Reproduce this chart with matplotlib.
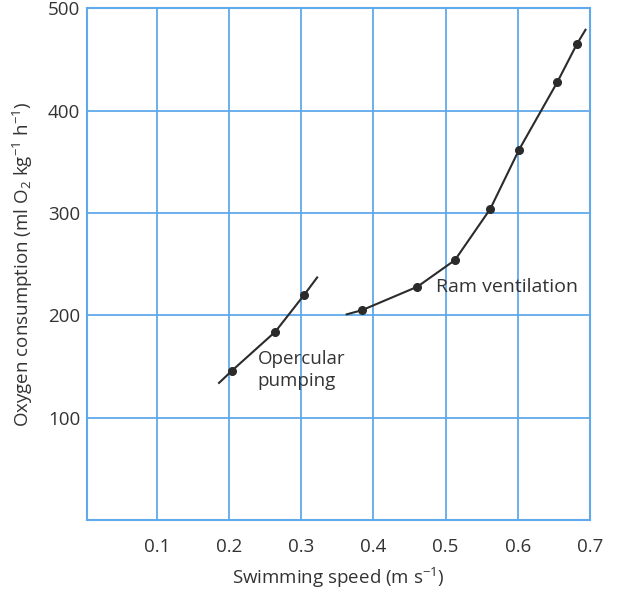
import matplotlib
matplotlib.use('Agg')
import matplotlib.pyplot as plt
import numpy as np

plt.rcParams['font.family'] = 'Open Sans'
plt.rcParams['mathtext.fontset'] = 'custom'
plt.rcParams['mathtext.rm'] = 'Open Sans'
plt.rcParams['mathtext.it'] = 'Open Sans'
plt.rcParams['mathtext.default'] = 'regular'

# opercular pumping: measured points and ends of the drawn line
oper_x = [0.204, 0.264, 0.304]
oper_y = [146, 184, 220]
oper_line_x = [0.186, 0.204, 0.264, 0.304, 0.322]
oper_line_y = [134, 146, 184, 220, 237]

# ram ventilation
ram_x = [0.384, 0.461, 0.513, 0.562, 0.602, 0.655, 0.682]
ram_y = [205, 228, 254, 304, 362, 428, 465]
ram_line_x = [0.363, 0.384, 0.461, 0.513, 0.562, 0.602, 0.655, 0.682, 0.694]
ram_line_y = [201, 205, 228, 254, 304, 362, 428, 465, 479]

xticks = [0.1, 0.2, 0.3, 0.4, 0.5, 0.6, 0.7]
yticks = [100, 200, 300, 400, 500]

grid_c = '#5fa9ec'
txt_c = '#333333'
line_c = '#2b2b2b'

fig = plt.figure(figsize=(6.17, 5.91), dpi=100)
ax = fig.add_axes([0.141, 0.120, 0.815, 0.866])

ax.plot(oper_line_x, oper_line_y, color=line_c, lw=1.5, zorder=3)
ax.plot(oper_x, oper_y, 'o', color=line_c, ms=5.5, zorder=4)
ax.plot(ram_line_x, ram_line_y, color=line_c, lw=1.5, zorder=3)
ax.plot(ram_x, ram_y, 'o', color=line_c, ms=5.5, zorder=4)

ax.text(0.2396, 146.5, 'Opercular\npumping', fontsize=13.5, color=txt_c,
        ha='left', va='center', linespacing=1.3)
ax.text(0.487, 228, 'Ram ventilation', fontsize=14, color=txt_c,
        ha='left', va='center')

ax.set_xlim(0.003, 0.7)
ax.set_ylim(0, 500)
ax.set_xticks(xticks)
ax.set_xticklabels([str(v) for v in xticks])
ax.set_yticks(yticks)
ax.set_yticklabels([str(v) for v in yticks])
ax.grid(True, color=grid_c, lw=1.3)
for s in ax.spines.values():
    s.set_color(grid_c)
    s.set_linewidth(1.5)
ax.tick_params(axis='x', length=0, pad=13, labelsize=13.5, labelcolor=txt_c)
ax.tick_params(axis='y', length=0, pad=5, labelsize=13.5, labelcolor=txt_c)

ax.set_xlabel('Swimming speed (m s$^{-1}$)', fontsize=13.5, color=txt_c, labelpad=7)
ax.set_ylabel('Oxygen consumption (ml O$_2$ kg$^{-1}$ h$^{-1}$)', fontsize=13.5,
              color=txt_c, labelpad=9)

plt.savefig('out.png', dpi=100)
